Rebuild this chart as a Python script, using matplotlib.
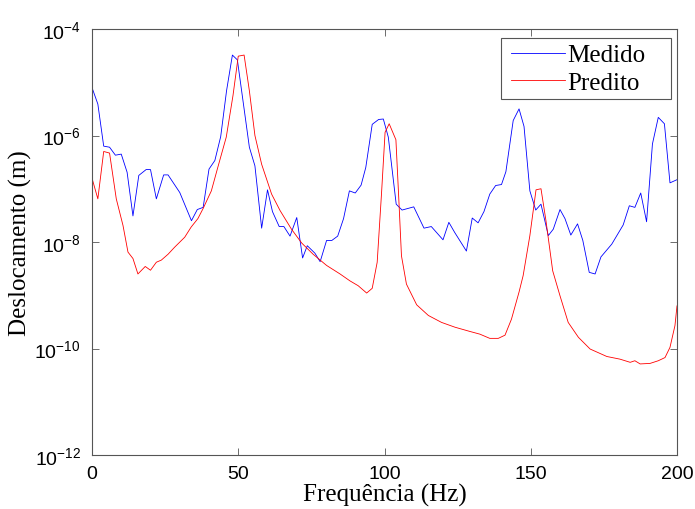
import numpy as np
import matplotlib
matplotlib.use('Agg')
import matplotlib.pyplot as plt
from matplotlib.ticker import NullLocator
from matplotlib.patches import Rectangle

# mathtext for the 10^x tick labels in an Arial-like face
plt.rcParams['mathtext.fontset'] = 'custom'
plt.rcParams['mathtext.rm'] = 'Liberation Sans'
plt.rcParams['mathtext.it'] = 'Liberation Sans:italic'
plt.rcParams['mathtext.bf'] = 'Liberation Sans:bold'

# ---------------------------------------------------------
# DATA
# ---------------------------------------------------------
freq_medido = [0, 2, 4, 6, 8, 10, 12, 14, 16, 18.5, 20, 22, 24.5, 26, 30, 34, 36, 38,
               40, 42, 44, 46, 48, 49.7, 51.7, 53.8, 55.7, 58, 60, 61.7, 64, 65.6, 67.7,
               70, 72, 73.6, 76.2, 78, 80.2, 82, 84, 86, 88, 90, 92, 93.6, 95.8, 98,
               99.6, 101.3, 104, 106, 110, 113.5, 116, 120, 122, 124, 128, 130, 132, 134,
               136, 138, 140, 141.5, 144, 146, 147.7, 149.7, 151.7, 153.5, 156, 157.7,
               160, 161.7, 163.7, 166, 167.8, 170, 172, 174, 177.7, 181.6, 183.7, 185.6,
               187.6, 189.6, 191.6, 193.6, 195.7, 197.6, 200]
desl_medido = [7.94e-6, 3.89e-6, 6.31e-7, 6.03e-7, 4.27e-7, 4.47e-7, 2.04e-7, 3.09e-8,
               1.78e-7, 2.29e-7, 2.29e-7, 6.46e-8, 1.82e-7, 1.82e-7, 8.51e-8, 2.51e-8,
               4.07e-8, 4.47e-8, 2.34e-7, 3.39e-7, 9.55e-7, 6.92e-6, 3.24e-5, 2.63e-5,
               4.17e-6, 6.03e-7, 2.69e-7, 1.82e-8, 9.55e-8, 3.72e-8, 1.95e-8, 1.95e-8,
               1.29e-8, 2.88e-8, 5.01e-9, 8.51e-9, 6.17e-9, 4.27e-9, 1.07e-8, 1.07e-8,
               1.29e-8, 2.75e-8, 9.12e-8, 8.32e-8, 1.17e-7, 2.51e-7, 1.62e-6, 2.0e-6,
               2.04e-6, 9.33e-7, 5.13e-8, 3.98e-8, 4.57e-8, 1.82e-8, 1.95e-8, 1.10e-8,
               2.34e-8, 1.51e-8, 6.76e-9, 2.82e-8, 2.29e-8, 3.72e-8, 7.94e-8, 1.15e-7,
               1.20e-7, 2.09e-7, 1.91e-6, 3.16e-6, 1.48e-6, 9.12e-8, 3.98e-8, 5.13e-8,
               1.32e-8, 1.74e-8, 4.07e-8, 2.75e-8, 1.35e-8, 2.19e-8, 1.07e-8, 2.69e-9,
               2.51e-9, 5.25e-9, 9.12e-9, 2.09e-8, 4.79e-8, 4.47e-8, 8.32e-8, 2.40e-8,
               6.92e-7, 2.19e-6, 1.66e-6, 1.29e-7, 1.48e-7]

freq_predito = [0, 2, 4, 6, 8.3, 10.6, 12.3, 14, 15.7, 18.2, 20, 22, 23.7, 26, 28.2, 31.7,
                33.9, 36.2, 38, 40.8, 43, 45.9, 48.2, 50, 52, 53.8, 55.7, 58, 61.4, 64.3,
                68.2, 71.7, 75.6, 80.2, 84.8, 88.2, 91, 93.9, 95.8, 97.5, 99, 100.2, 101.6,
                103.9, 105, 105.8, 107.5, 111, 115, 119.5, 124.1, 129.2, 132.6, 136, 138.9,
                141.2, 143.4, 146, 147.4, 149.7, 151.8, 153.5, 155.2, 157.5, 160, 162.8,
                166.3, 170.3, 176, 180.5, 184, 185.6, 187.4, 190.8, 193.6, 195.9, 197.6,
                199.3, 200]
desl_predito = [1.58e-7, 6.46e-8, 5.01e-7, 4.68e-7, 6.46e-8, 2.04e-8, 6.46e-9, 4.90e-9,
                2.51e-9, 3.47e-9, 2.95e-9, 4.17e-9, 4.57e-9, 5.89e-9, 7.94e-9, 1.23e-8,
                1.91e-8, 2.75e-8, 4.27e-8, 9.12e-8, 2.51e-7, 9.33e-7, 5.62e-6, 3.09e-5,
                3.24e-5, 6.92e-6, 1.0e-6, 2.88e-7, 7.94e-8, 3.89e-8, 1.74e-8, 9.55e-9,
                5.89e-9, 3.63e-9, 2.51e-9, 1.86e-9, 1.51e-9, 1.10e-9, 1.35e-9, 4.17e-9,
                8.51e-8, 1.15e-6, 1.66e-6, 8.32e-7, 4.79e-8, 5.50e-9, 1.62e-9, 6.61e-10,
                4.17e-10, 3.09e-10, 2.51e-10, 2.09e-10, 1.86e-10, 1.55e-10, 1.55e-10,
                1.78e-10, 3.55e-10, 1.15e-9, 2.34e-9, 1.32e-8, 9.55e-8, 1.0e-7, 2.51e-8,
                2.88e-9, 9.77e-10, 3.09e-10, 1.62e-10, 9.77e-11, 7.08e-11, 6.31e-11,
                5.50e-11, 5.89e-11, 5.13e-11, 5.25e-11, 5.89e-11, 6.76e-11, 1.05e-10,
                2.69e-10, 6.31e-10]

xticks = [0, 50, 100, 150, 200]
yticks = [1e-12, 1e-10, 1e-8, 1e-6, 1e-4]
ytick_labels = [r'$10^{-12}$', r'$10^{-10}$', r'$10^{-8}$', r'$10^{-6}$', r'$10^{-4}$']

# ---------------------------------------------------------
# PLOT
# ---------------------------------------------------------
fig = plt.figure(figsize=(6.95, 5.10), dpi=100)
ax = fig.add_axes([92 / 695, 1 - 456 / 510, 585 / 695, 426 / 510])

ax.semilogy(freq_medido, desl_medido, color='blue', linewidth=0.6, label='Medido')
ax.semilogy(freq_predito, desl_predito, color='red', linewidth=0.6, label='Predito')

ax.set_xlim(0, 200)
ax.set_ylim(1e-12, 1e-4)
ax.set_xticks(xticks)
ax.set_xticklabels([str(t) for t in xticks], fontfamily='Liberation Sans')
ax.set_yticks(yticks)
ax.set_yticklabels(ytick_labels)
ax.yaxis.set_minor_locator(NullLocator())

ax.tick_params(direction='in', length=5, width=0.6, color='#555555',
               top=True, right=True, labelsize=14, pad=7)
ax.tick_params(axis='y', pad=8)
for sp in ax.spines.values():
    sp.set_color('#555555')
    sp.set_linewidth(0.8)

ax.set_xlabel('Frequência (Hz)', fontfamily='Liberation Serif', fontsize=18, labelpad=1)
ax.set_ylabel('Deslocamento (m)', fontfamily='Liberation Serif', fontsize=18, labelpad=2)

# legend entries without frame, MATLAB-like box drawn separately
leg = ax.legend(loc='upper left', bbox_to_anchor=(511.5 / 695, 1 - 45 / 510),
                bbox_transform=fig.transFigure, borderaxespad=0, borderpad=0,
                prop={'family': 'Liberation Serif', 'size': 18},
                frameon=False, handlelength=2.13, handletextpad=0.08,
                labelspacing=0.2)
fig.add_artist(Rectangle((501 / 695, 1 - 100 / 510), 170 / 695, 61 / 510,
                         transform=fig.transFigure, facecolor='white',
                         edgecolor='#555555', linewidth=0.8, zorder=2))
leg.set_zorder(3)
fig.add_artist(leg)

fig.savefig('out.png', dpi=100)
